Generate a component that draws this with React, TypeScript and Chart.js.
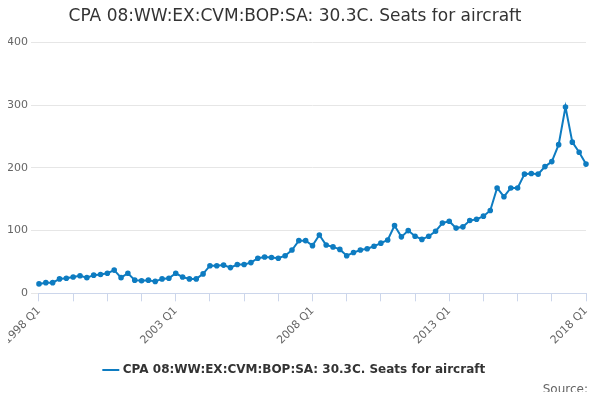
import React, { useEffect, useRef } from "react";
import { Chart, registerables } from "chart.js";
Chart.register(...registerables);

const years = Array.from({ length: 21 }, (_, i) => 1998 + i);
const labels: string[] = [];
years.forEach((y) => [1, 2, 3, 4].forEach((q) => { if (y < 2018 || q === 1) labels.push(`${y} Q${q}`); }));
const values = [
  15, 17, 17, 23, 24, 26, 28, 25, 29, 30, 32, 37, 25, 32, 21, 20,
  21, 19, 23, 24, 32, 26, 23, 23, 31, 44, 44, 45, 41, 46, 46, 49,
  56, 58, 57, 56, 60, 69, 84, 84, 76, 93, 77, 74, 70, 60, 65, 69,
  71, 75, 80, 85, 108, 90, 100, 91, 86, 91, 99, 112, 115, 104, 106, 116,
  118, 123, 132, 168, 154, 168, 168, 190, 191, 190, 202, 210, 237, 297, 241, 225,
  206,
];
const seriesName = "CPA 08:WW:EX:CVM:BOP:SA: 30.3C. Seats for aircraft";

export default function App() {
  const ref = useRef<HTMLCanvasElement>(null);
  useEffect(() => {
    const c = new Chart(ref.current!, {
      type: "line",
      data: {
        labels,
        datasets: [{
          label: seriesName, data: values, borderColor: "#0e7cc1", backgroundColor: "#0e7cc1",
          borderWidth: 2, pointRadius: 1.8, pointHoverRadius: 2, tension: 0,
        }],
      },
      options: {
        animation: false, responsive: false,
        layout: { padding: { left: 4, right: 14, top: 0, bottom: 14 } },
        plugins: {
          title: { display: true, text: "CPA 08:WW:EX:CVM:BOP:SA: 30.3C. Seats for aircraft", color: "#333", font: { family: "DejaVu Sans", size: 17, weight: "normal" }, padding: { top: 6, bottom: 16 } },
          legend: { position: "bottom", labels: { usePointStyle: true, pointStyle: "line", color: "#333", font: { family: "DejaVu Sans", size: 12, weight: "bold" }, padding: 14 } },
          tooltip: { enabled: false },
        },
        scales: {
          x: {
            grid: {
              drawOnChartArea: false, tickLength: 8,
              color: (ctx: any) => (ctx.index % 5 === 0 ? "#ccd6eb" : "transparent"),
            },
            border: { color: "#ccd6eb" },
            ticks: {
              autoSkip: false, maxRotation: 45, minRotation: 45, color: "#666",
              font: { family: "DejaVu Sans", size: 11 },
              callback: (_v: any, i: number) => (i % 20 === 0 ? labels[i] : ""),
            },
          },
          y: {
            min: 0, max: 400,
            ticks: { stepSize: 100, color: "#666", font: { family: "DejaVu Sans", size: 11 } },
            grid: { color: "#e6e6e6" }, border: { display: false },
          },
        },
      },
    });
    return () => c.destroy();
  }, []);
  return (
    <div style={{ position: "relative", width: 600, height: 400, margin: -8 }}>
      <canvas ref={ref} width={600} height={400} />
      <div style={{ position: "absolute", right: 12, bottom: 4, fontFamily: "DejaVu Sans", fontSize: 12, color: "#666" }}>Source:</div>
    </div>
  );
}
